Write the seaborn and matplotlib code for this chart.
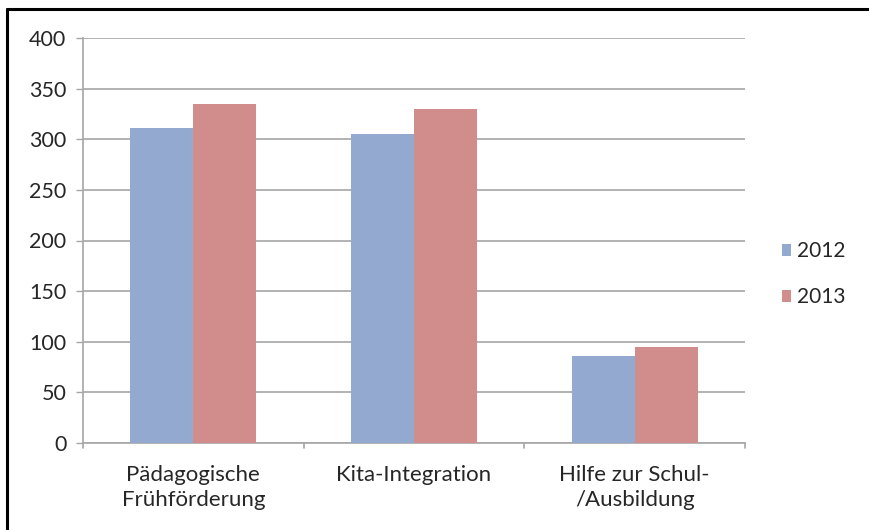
import pandas as pd
import matplotlib
matplotlib.use("Agg")
import matplotlib.pyplot as plt
import seaborn as sns
from matplotlib.lines import Line2D
from matplotlib.patches import Patch

CATEGORIES = ["Pädagogische\nFrühförderung", "Kita-Integration", "Hilfe zur Schul-\n/Ausbildung"]
YEARS = ["2012", "2013"]
VALUES_2012 = [311, 305, 86]
VALUES_2013 = [335, 330, 95]
COLORS = ["#94A9D0", "#D18D8C"]

df = pd.DataFrame({
    "category": CATEGORIES * 2,
    "year": [YEARS[0]] * 3 + [YEARS[1]] * 3,
    "value": VALUES_2012 + VALUES_2013,
})

sns.set_style("white")
plt.rcParams["font.family"] = ["Lato", "DejaVu Sans"]

fig = plt.figure(figsize=(8.69, 5.30), dpi=100)
ax = fig.add_axes([83 / 869, 1 - 443 / 530, (745 - 83) / 869, (443 - 38) / 530])

sns.barplot(data=df, x="category", y="value", hue="year", palette=COLORS,
            width=0.57, saturation=1, linewidth=0, ax=ax, legend=False, zorder=3)

ax.set_ylim(0, 400)
ax.set_xlim(-0.5, 2.5)
ax.set_yticks(range(0, 401, 50))
ax.yaxis.grid(True, color="#A6A6A6", linewidth=1.2, zorder=0)
ax.set_xlabel("")
ax.set_ylabel("")

for side in ["top", "right"]:
    ax.spines[side].set_visible(False)
for side in ["left", "bottom"]:
    ax.spines[side].set_color("#A6A6A6")
    ax.spines[side].set_linewidth(1.2)

ax.tick_params(axis="y", left=True, length=5, width=1, color="#A6A6A6",
               labelsize=15.5, labelcolor="#262626", pad=7)
ax.tick_params(axis="x", bottom=False, labelsize=16, labelcolor="#262626", pad=12)
for lbl in ax.get_xticklabels():
    lbl.set_linespacing(1.35)

# category boundary ticks on the x axis
for xb in [-0.5, 0.5, 1.5, 2.5]:
    ax.plot([xb, xb], [0, -0.012], transform=ax.get_xaxis_transform(),
            color="#A6A6A6", linewidth=1.2, clip_on=False)

handles = [Patch(facecolor=c, edgecolor="none") for c in COLORS]
fig.legend(handles, YEARS, loc="center left", bbox_to_anchor=(0.878, 0.483),
           frameon=False, fontsize=15, handlelength=0.45, handleheight=0.5,
           handletextpad=0.3, labelspacing=1.25)

# frame lines from the cropped source
fig.add_artist(Line2D([7 / 869, 7 / 869], [0, 1 - 9 / 530], transform=fig.transFigure,
                      color="black", linewidth=2.2))
fig.add_artist(Line2D([7 / 869, 1], [1 - 9 / 530, 1 - 9 / 530], transform=fig.transFigure,
                      color="black", linewidth=2.2))

fig.savefig("out.png", dpi=100)
